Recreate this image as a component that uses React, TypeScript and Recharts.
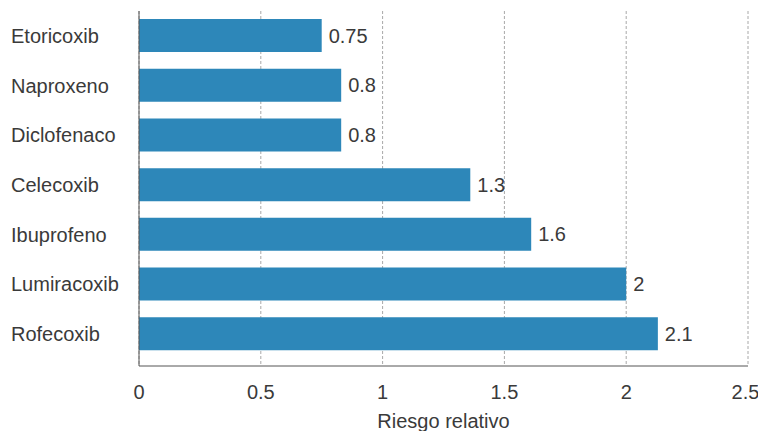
import { BarChart, Bar, XAxis, YAxis, CartesianGrid, LabelList } from "recharts";

const drugs = ["Etoricoxib", "Naproxeno", "Diclofenaco", "Celecoxib", "Ibuprofeno", "Lumiracoxib", "Rofecoxib"];
const riskValues = [0.75, 0.83, 0.83, 1.36, 1.61, 2.0, 2.13];
const riskLabels = ["0.75", "0.8", "0.8", "1.3", "1.6", "2", "2.1"];
const xTicks = [0, 0.5, 1, 1.5, 2, 2.5];

const chartData = drugs.map((name, i) => ({
    name,
    risk: riskValues[i],
    label: riskLabels[i],
}));

const FONT = "'Liberation Sans', Arial, sans-serif";
const TEXT = "#3a3a3a";

function DrugTick(props: any) {
    const { y, payload } = props;
    return (
        <text x={11} y={y} dy={7} textAnchor="start" fontSize={20} fill={TEXT} fontFamily={FONT}>
            {payload.value}
        </text>
    );
}

export default function App() {
    return (
        <div style={{ width: 758, height: 431 }}>
            <style>{`body{margin:0}`}</style>
            <BarChart
                width={758}
                height={431}
                data={chartData}
                layout="vertical"
                margin={{ top: 11, right: 10, left: 0, bottom: 0 }}
                barSize={33}
            >
                <CartesianGrid vertical horizontal={false} strokeDasharray="3 2" stroke="#a8a8a8" />
                <XAxis
                    type="number"
                    domain={[0, 2.5]}
                    ticks={xTicks}
                    height={65}
                    axisLine={{ stroke: "#555" }}
                    tickLine={false}
                    tick={{ fontSize: 20, fill: TEXT, fontFamily: FONT }}
                    tickMargin={13}
                    label={{ value: "Riesgo relativo", position: "insideBottom", offset: 3, fontSize: 20, fill: TEXT, fontFamily: FONT }}
                />
                <YAxis
                    type="category"
                    dataKey="name"
                    width={139}
                    padding={{ top: 0, bottom: 7 }}
                    axisLine={{ stroke: "#555" }}
                    tickLine={false}
                    tick={<DrugTick />}
                />
                <Bar dataKey="risk" fill="#2d87b9" isAnimationActive={false}>
                    <LabelList dataKey="label" position="right" offset={7} fontSize={20} fill={TEXT} fontFamily={FONT} />
                </Bar>
            </BarChart>
        </div>
    );
}
